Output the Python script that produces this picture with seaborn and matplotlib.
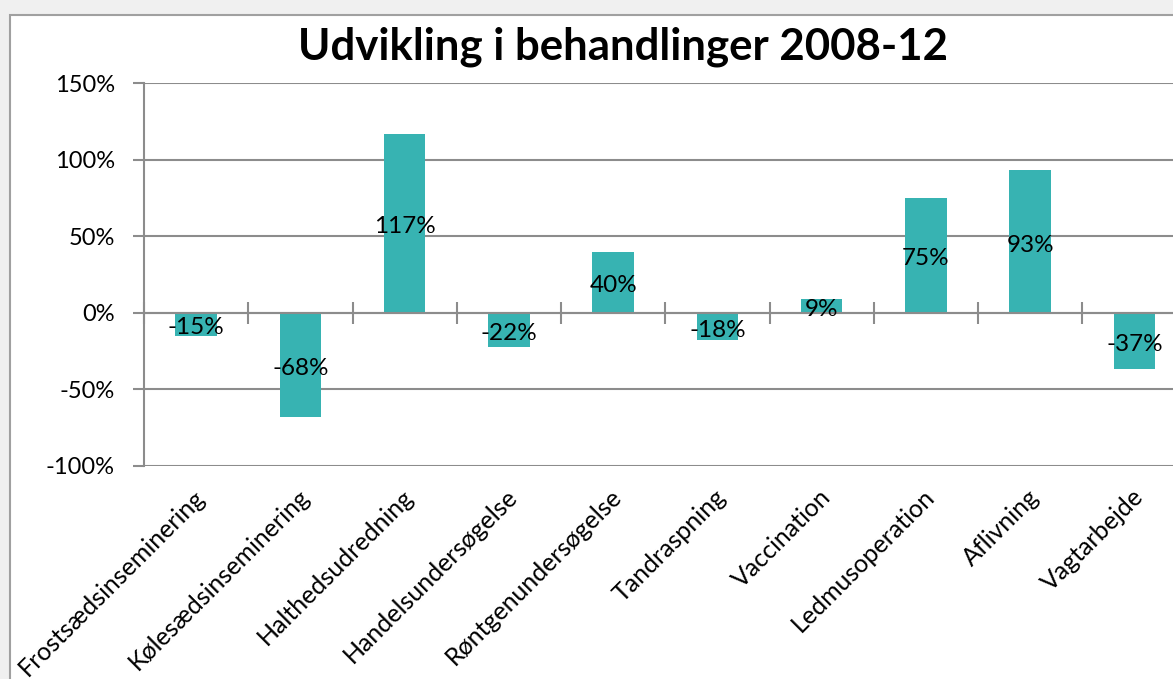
import numpy as np
import matplotlib.pyplot as plt
import seaborn as sns
from matplotlib.patches import Rectangle

# data
categories = ['Frostsædsinseminering', 'Kølesædsinseminering', 'Halthedsudredning',
              'Handelsundersøgelse', 'Røntgenundersøgelse', 'Tandraspning',
              'Vaccination', 'Ledmusoperation', 'Aflivning', 'Vagtarbejde']
changes = [-15, -68, 117, -22, 40, -18, 9, 75, 93, -37]
y_ticks = [-100, -50, 0, 50, 100, 150]

bar_color = '#37B3B2'
grid_color = '#8C8C8C'

sns.set_theme(style='white')
plt.rcParams['font.family'] = ['Lato', 'DejaVu Sans']

W, H = 1173, 679
fig = plt.figure(figsize=(W / 100, H / 100), dpi=100, facecolor='#F0F0F0')

# chart area frame (cut off on the right and bottom like the screenshot)
fig.patches.append(Rectangle((10 / W, -0.1), 1.2, 1.1 - 15 / H, transform=fig.transFigure,
                             facecolor='white', edgecolor='#A0A0A0', linewidth=1.5, zorder=-1))

ax = fig.add_axes([144 / W, 213 / H, 1042.5 / W, 383 / H])
ax.patch.set_alpha(0)

sns.barplot(x=categories, y=changes, color=bar_color, width=0.4, saturation=1,
            linewidth=0, ax=ax)

ax.set_ylim(-100, 150)
ax.set_xlim(-0.5, len(categories) - 0.5)
ax.set_yticks(y_ticks)
ax.set_yticklabels([f'{t}%' for t in y_ticks])
ax.yaxis.grid(True, color=grid_color, linewidth=1.5)
ax.set_axisbelow(True)

for side in ['top', 'right']:
    ax.spines[side].set_visible(False)
ax.spines['left'].set_color(grid_color)
ax.spines['left'].set_linewidth(1.5)
ax.spines['bottom'].set_position(('data', 0))
ax.spines['bottom'].set_color(grid_color)
ax.spines['bottom'].set_linewidth(1.5)

ax.tick_params(axis='y', direction='out', length=8, width=1.5, color=grid_color,
               labelsize=17, labelcolor='black', pad=13, left=True)
ax.tick_params(axis='x', which='major', length=0, labelbottom=False)
ax.set_xticks(np.arange(-0.5, len(categories), 1), minor=True)
ax.tick_params(axis='x', which='minor', direction='inout', length=16, width=1.5,
               color=grid_color, bottom=True)
ax.set_xlabel('')
ax.set_ylabel('')

# value labels in the middle of each bar
labels = ax.bar_label(ax.containers[0], labels=[f'{v}%' for v in changes],
                      label_type='center', fontsize=17.5, color='black')
for t in labels:
    t.xyann = (0, -2.5)

# rotated category labels under the plot area
for i, name in enumerate(categories):
    ax.annotate(name, xy=(i, 0), xycoords=('data', 'axes fraction'),
                xytext=(-3, -19), textcoords='offset pixels', rotation=45,
                rotation_mode='anchor', ha='right', va='top', fontsize=18, color='black')

fig.text(623 / W, 1 - 47 / H, 'Udvikling i behandlinger 2008-12', ha='center', va='center',
         fontsize=31.5, fontweight='bold', color='black')

fig.savefig('out.png', dpi=100, facecolor=fig.get_facecolor())
